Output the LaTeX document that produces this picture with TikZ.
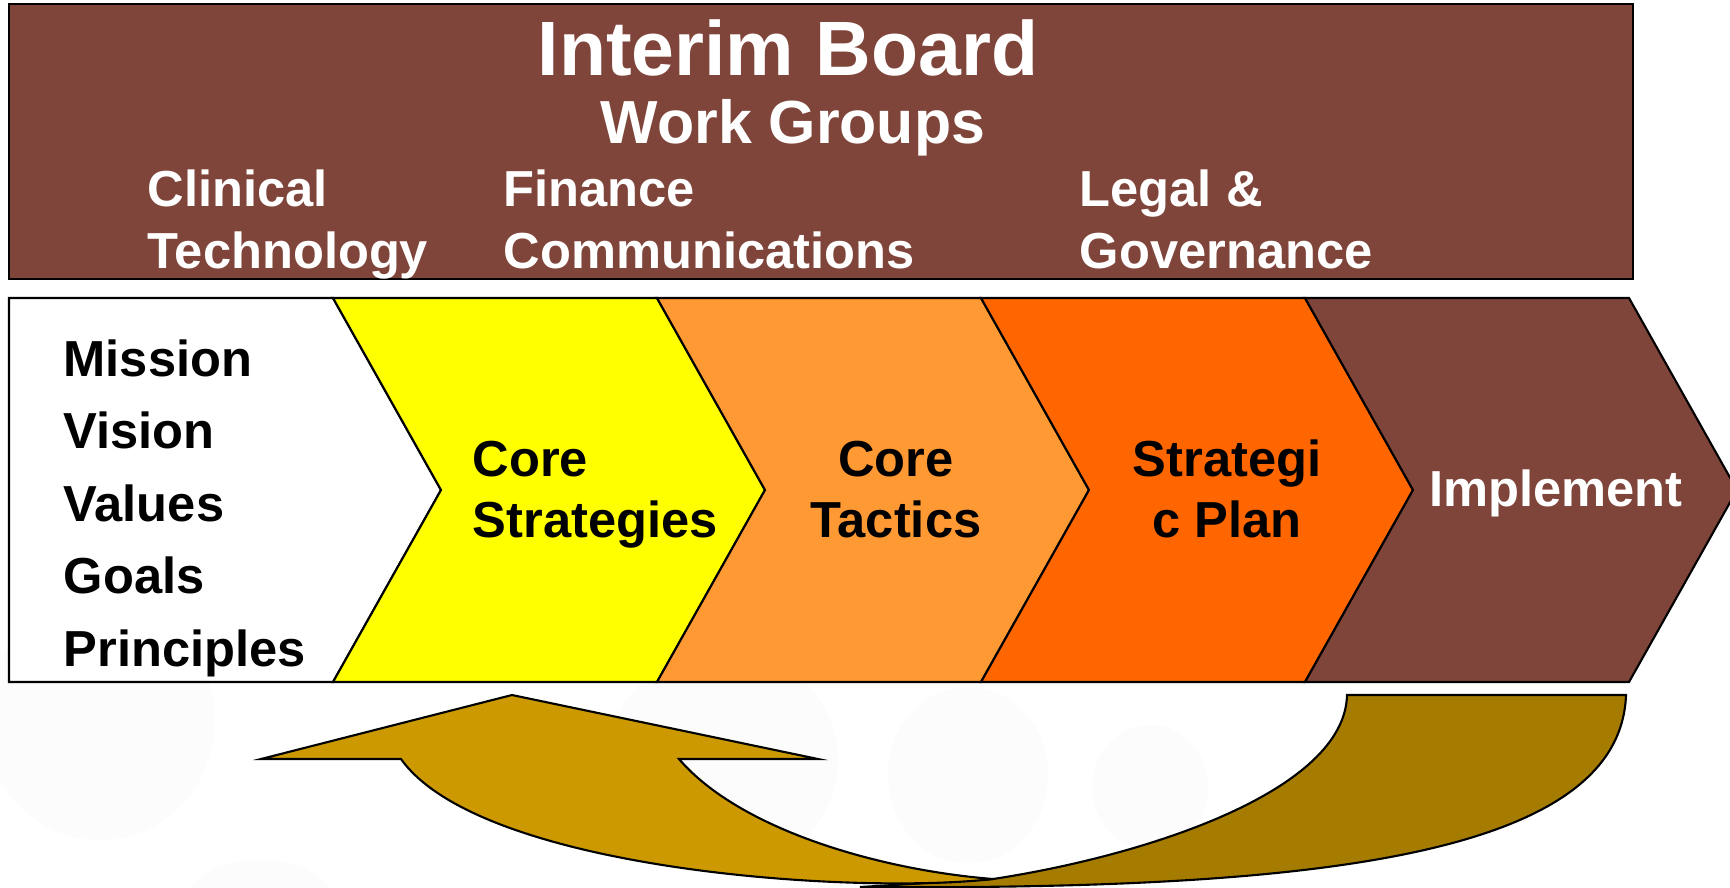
\documentclass[tikz,border=0pt]{standalone}
\usepackage{fontspec}
\setmainfont{Liberation Sans}
\usepackage{xcolor}
\usepackage{tikz}
\usetikzlibrary{positioning}

\definecolor{boardbrown}{RGB}{128,69,58}
\definecolor{chevyellow}{RGB}{255,255,0}
\definecolor{chevorange}{RGB}{255,153,51}
\definecolor{chevred}{RGB}{255,102,0}
\definecolor{loopgold}{RGB}{204,153,0}
\definecolor{loopdark}{RGB}{166,124,0}

\begin{document}
\begin{tikzpicture}[x=0.01cm, y=-0.01cm,
    chev/.style={draw=black, line width=0.6pt, line join=miter},
    grp/.style={font=\bfseries\fontsize{14.4}{17.4}\selectfont, text=white, align=left, inner sep=0pt, anchor=base west},
    steptxt/.style={font=\bfseries\fontsize{14.4}{17.1}\selectfont, inner sep=0pt, anchor=base},
    faint/.style={fill=black!1}]

    \useasboundingbox[fill=white] (0,0) rectangle (1730,887);

    % faint background blobs
    \fill[faint] (100,720) ellipse (115 and 120);
    \fill[faint] (723,760) ellipse (115 and 110);
    \fill[faint] (968,775) ellipse (80 and 88);
    \fill[faint] (1150,787) ellipse (58 and 62);
    \fill[faint] (260,905) ellipse (75 and 45);

    % board banner
    \draw[fill=boardbrown, line width=0.8pt] (9,4) rectangle (1633,279);
    \node[font=\bfseries\fontsize{21.9}{26}\selectfont, text=white, inner sep=0pt, anchor=base] (board) at (788,75) {Interim Board};
    \node[font=\bfseries\fontsize{17.3}{20}\selectfont, text=white, inner sep=0pt, anchor=base] (groups) at (793,143) {Work Groups};
    % multi-line nodes: base = last line
    \node[grp] (clinical) at (147,268) {Clinical\\Technology};
    \node[grp] (finance) at (503,268) {Finance\\Communications};
    \node[grp] (legal) at (1079,268) {Legal \&\\Governance};

    % process chevrons
    \draw[chev, fill=white] (9,298) -- (333,298) -- (441,490) -- (333,682) -- (9,682) -- cycle;
    \foreach \x/\col in {333/chevyellow, 657/chevorange, 981/chevred, 1305/boardbrown}
        \draw[chev, fill=\col] (\x,298) -- ++(324,0) -- ++(108,192) -- ++(-108,192) -- ++(-324,0) -- ++(108,-192) -- cycle;

    \node[font=\bfseries\fontsize{14.4}{20.6}\selectfont, align=left, inner sep=0pt, anchor=base west] (mission) at (63,666) {Mission\\Vision\\Values\\Goals\\Principles};
    \node[steptxt, anchor=base west, align=left] (strategies) at (472,537) {Core\\Strategies};
    \node[steptxt, align=center] (tactics) at (896,537) {Core\\Tactics};
    \node[steptxt, align=center] (plan) at (1227,537) {Strategi\\c Plan};
    \node[steptxt, text=white] (implement) at (1556,506) {Implement};

    % feedback loop back to core strategies
    \filldraw[fill=loopdark, draw=black, line width=0.6pt] (1347,695) -- (1626,695) .. controls (1620,860) and (1300,890) .. (860,887) -- (993,879) .. controls (1150,855) and (1345,790) .. (1347,695) -- cycle;
    \filldraw[fill=loopgold, draw=black, line width=0.6pt] (512,695) -- (818,759) -- (679,759) .. controls (740,830) and (880,870) .. (993,879) .. controls (850,895) and (480,870) .. (401,759) -- (261,759) -- cycle;

\end{tikzpicture}
\end{document}
